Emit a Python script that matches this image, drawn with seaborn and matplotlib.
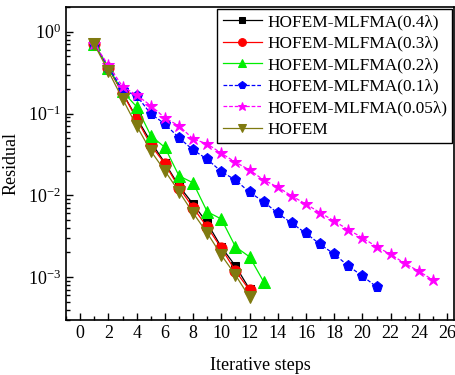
import numpy as np
import pandas as pd
import matplotlib
matplotlib.use('Agg')
import matplotlib.pyplot as plt
from matplotlib.ticker import MultipleLocator, LogLocator, NullFormatter
import seaborn as sns

labels = ['HOFEM-MLFMA(0.4λ)', 'HOFEM-MLFMA(0.3λ)', 'HOFEM-MLFMA(0.2λ)',
          'HOFEM-MLFMA(0.1λ)', 'HOFEM-MLFMA(0.05λ)', 'HOFEM']

res_04 = [0.71, 0.362, 0.179, 0.0885, 0.045, 0.0249, 0.013, 0.00783,
          0.00458, 0.00233, 0.00137, 0.000713]
res_03 = [0.71, 0.36, 0.177, 0.086, 0.0413, 0.0242, 0.0124, 0.00706,
          0.00409, 0.00226, 0.00119, 0.000693]
res_02 = [0.71, 0.362, 0.186, 0.121, 0.0537, 0.0385, 0.0173, 0.0142,
          0.0063, 0.00513, 0.00235, 0.00177, 0.000877]
res_01 = [0.71, 0.365, 0.195, 0.165, 0.099, 0.0747, 0.0504, 0.0359,
          0.0276, 0.0195, 0.0154, 0.0109, 0.00836, 0.00603, 0.00455,
          0.00343, 0.00252, 0.00191, 0.00137, 0.00103, 0.00076]
res_005 = [0.71, 0.387, 0.214, 0.168, 0.125, 0.0885, 0.0706, 0.049,
           0.0425, 0.0327, 0.0254, 0.0204, 0.0154, 0.0126, 0.0098,
           0.0078, 0.00613, 0.00485, 0.00379, 0.00303, 0.00235, 0.0019,
           0.00147, 0.00118, 0.00092]
res_hofem = [0.70, 0.327, 0.151, 0.0706, 0.0349, 0.0199, 0.0111, 0.00608,
             0.00346, 0.00186, 0.00106, 0.000569]

series = [res_04, res_03, res_02, res_01, res_005, res_hofem]
colors = ['black', 'red', '#00ee00', 'blue', '#ff00ff', '#7f7a10']
markers = ['s', 'o', '^', 'p', '*', 'v']
styles = ['-', '-', '-', (0, (3, 1.5)), (0, (3, 1.5)), '-']
msizes = [6, 8, 8, 8, 9, 8]

plt.rcParams['font.family'] = ['Liberation Serif', 'DejaVu Serif']
plt.rcParams['mathtext.fontset'] = 'stix'

fig = plt.figure(figsize=(4.56, 3.75), dpi=100)
ax = fig.add_axes([0.145, 0.147, 0.851, 0.834])

for lab, vals, c, m, ls, ms in zip(labels, series, colors, markers, styles, msizes):
    df = pd.DataFrame({'step': np.arange(1, len(vals) + 1), 'res': vals})
    sns.lineplot(data=df, x='step', y='res', ax=ax, color=c, marker=m,
                 markersize=ms, markeredgecolor=c, linewidth=0.9,
                 linestyle=ls, label=lab)

ax.set_yscale('log')
ax.set_xlim(-1, 26.5)
ax.set_ylim(3e-4, 2)
ax.xaxis.set_major_locator(MultipleLocator(2))
ax.xaxis.set_minor_locator(MultipleLocator(1))
ax.yaxis.set_major_locator(LogLocator(base=10, numticks=10))
ax.yaxis.set_minor_locator(LogLocator(base=10, subs=np.arange(2, 10), numticks=10))
ax.yaxis.set_minor_formatter(NullFormatter())
ax.tick_params(which='both', direction='in', labelsize=13)
ax.tick_params(which='major', length=5, width=1)
ax.tick_params(which='minor', length=3, width=1)
for s in ax.spines.values():
    s.set_linewidth(1.2)

ax.set_xlabel('Iterative steps', fontsize=13, labelpad=11)
ax.set_ylabel('Residual', fontsize=13, labelpad=6)

leg = ax.legend(loc='upper right', fontsize=12.4, frameon=True, fancybox=False,
                edgecolor='black', framealpha=1, borderaxespad=0.1,
                handlelength=2.3, handletextpad=0.3, labelspacing=0.32,
                borderpad=0.3, markerscale=0.7)
leg.get_frame().set_linewidth(1.0)

fig.savefig('out.png', dpi=100)
